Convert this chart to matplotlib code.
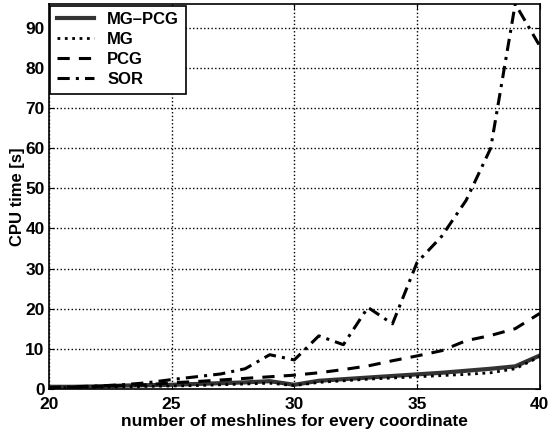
import matplotlib
matplotlib.use("Agg")
import matplotlib.pyplot as plt

mesh = list(range(20, 41))
mg_pcg = [0.5, 0.5, 0.6, 0.8, 0.9, 1.0, 1.2, 1.4, 1.6, 1.9, 1.0,
          2.0, 2.4, 2.8, 3.2, 3.6, 4.0, 4.5, 5.0, 5.6, 8.3]
mg = [0.3, 0.3, 0.4, 0.5, 0.6, 0.7, 0.8, 1.0, 1.2, 1.4, 0.8,
      1.6, 2.0, 2.4, 2.7, 3.0, 3.3, 3.6, 4.0, 5.0, 8.0]
pcg = [0.3, 0.4, 0.6, 0.8, 1.0, 1.5, 1.8, 2.2, 2.6, 3.0, 3.4,
       4.0, 4.8, 5.7, 7.0, 8.2, 9.5, 12.0, 13.3, 15.0, 18.8]
sor = [0.3, 0.5, 0.7, 1.0, 1.5, 2.3, 3.0, 3.7, 5.0, 8.5, 7.2,
       13.2, 11.0, 20.3, 16.2, 31.5, 38.0, 47.0, 60.0, 96.0, 85.5]

plt.rcParams['font.family'] = ['Liberation Sans', 'DejaVu Sans']
plt.rcParams['font.weight'] = 'bold'

fig = plt.figure(figsize=(5.48, 4.32), dpi=100)
ax = fig.add_axes([0.089, 0.1, 0.896, 0.891])

ax.plot(mesh, mg_pcg, color="#333333", lw=3, linestyle="-", label="MG\u2013PCG")
ax.plot(mesh, mg, color="black", lw=2, linestyle=":", label="MG")
ax.plot(mesh, pcg, color="black", lw=2.2, linestyle=(0, (4, 3)), label="PCG")
ax.plot(mesh, sor, color="black", lw=2.2, linestyle=(0, (4, 2, 1, 2)), label="SOR")

ax.set_xlim(20, 40)
ax.set_ylim(0, 96)
ax.set_xticks([20, 25, 30, 35, 40])
ax.set_yticks(range(0, 100, 10))
ax.grid(True, linestyle=":", color="black", lw=1)
ax.tick_params(direction="in", top=True, right=True, labelsize=12.5)
ax.tick_params(axis="x", pad=6)
ax.tick_params(axis="y", pad=3)
for lab in ax.get_xticklabels() + ax.get_yticklabels():
    lab.set_fontweight("bold")
for s in ax.spines.values():
    s.set_linewidth(1.2)

ax.set_xlabel("number of meshlines for every coordinate", fontsize=12.5, fontweight="bold", labelpad=1)
ax.set_ylabel("CPU time [s]", fontsize=12, fontweight="bold", labelpad=0)

leg = ax.legend(loc="upper left", fontsize=12, frameon=True, fancybox=False,
                edgecolor="black", framealpha=1, borderaxespad=0.1,
                handlelength=2.2, labelspacing=0.3)
leg.get_frame().set_linewidth(1.2)

fig.savefig("out.png", dpi=100)
